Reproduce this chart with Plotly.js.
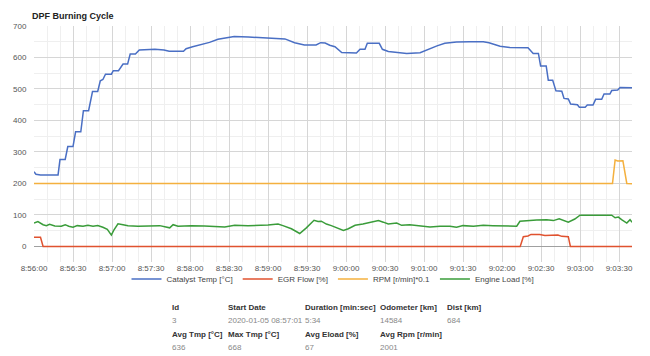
<!DOCTYPE html>
<html>
<head>
<meta charset="utf-8">
<script src="https://cdn.plot.ly/plotly-3.0.1.min.js"></script>
<style>
html,body{margin:0;padding:0;background:#fff;}
#chart{width:650px;height:356px;}
</style>
</head>
<body>
<div id="chart"></div>
<script>
// ---- Data (seconds after 08:56:00 on 2020-01-05, value) ----
const chartTitle = "DPF Burning Cycle";
const seriesNames = ["Catalyst Temp [°C]", "EGR Flow [%]", "RPM [r/min]*0.1", "Engine Load [%]"];

const catalystT = [0,1.5,5,18.5,20,24,26,30,32,36,38,42,45,49,51,53,55,59.5,61,65,68.5,72,74,78,81,93,100,104,115,117,122,128.7,135,141.5,149,154,165,180,193,200.5,205.6,208,217,220.5,224,227.5,231.5,236.7,248,250.8,254.6,256.4,265.6,268,272.6,286.7,297,302,310,316,325,335,345.6,350,358.5,366,380,384,388,389.7,394,395.6,399,401.5,406,407.7,411,412.8,418,419.5,424,425.6,430,432,436.7,438.5,443,444.4,449,450.8,460];
const catalystV = [237,229,227,227,276,276,317,317,364,364,431,431,492,492,526,530,547,547,558,558,579,579,611,611,624,626,624,620,620,628,634,640,648,658,664,667,665,662,659,647,643,640,640,647,646,639,634,616,614,626,626,645,645,626,619,613,615,624,637,645,649,650,650,647,636,632,631,613,613,573,573,528,528,494,493,470,468,452,450,442,442,449,449,467,467,484,484,495,497,505,504];

const egrT = [0,5,7,374,376.4,380,382.3,389,393,403,406,411,412.6,460];
const egrV = [29,29,0,0,31,33,38,38,35,36,32,31,0,0];

const rpmT = [0,30,58,90,130,200,215,230,300,380,440,445,447,449,453,456,460];
const rpmV = [200,201,200,200,200,201,199,200,200,200,200,200,274,271,272,200,199];

const loadT = [0,3,7,9.5,12,16,21,24,26.7,30,33.3,37.7,41.5,45.4,49,53,56.4,58.2,59.5,61.3,64.6,68.5,72.3,80,87.7,96.7,104.4,107,110.8,121,131,146.7,154.4,164.6,180,187.7,191.5,198,204.4,209.5,215.4,218.5,221,224.9,228.7,232.8,238,241.8,247,253,258.5,265,268.7,272.5,279,282.8,289,297,304.6,312.3,320,325,330,338,345.6,353,361,367.4,371.3,373.8,379,386.7,394.4,399.5,404,407,411,416,420,433,444.4,447,449.5,452,456,458.5,460];
const loadV = [74,79,69,66,70,65,64,69,64,61,66,64,67,64,66,61,54,43,36,51,72,69,66,64,64,66,59,69,64,66,65,62,67,66,68,71,66,56,41,59,83,79,80,71,66,59,51,56,67,71,77,82,77,71,74,67,69,66,62,64,64,61,66,64,67,66,66,64,64,80,82,84,85,82,88,83,77,87,99,99,99,91,93,85,74,85,77];

// summary table
const tableHeaders1 = ["Id", "Start Date", "Duration [min:sec]", "Odometer [km]", "Dist [km]"];
const tableValues1 = ["3", "2020-01-05 08:57:01", "5:34", "14584", "684"];
const tableHeaders2 = ["Avg Tmp [°C]", "Max Tmp [°C]", "Avg Eload [%]", "Avg Rpm [r/min]"];
const tableValues2 = ["636", "668", "67", "2001"];

const seriesColors = ["#4a6fc4", "#e0522f", "#f4b03e", "#3a9c3a"];

// ---- helpers ----
function stamp(sec){
  const total = 8*3600 + 56*60 + sec;
  const h = Math.floor(total/3600);
  const m = Math.floor((total - h*3600)/60);
  const s = total - h*3600 - m*60;
  const p = n => String(n).padStart(2,'0');
  const si = Math.floor(s);
  const ms = Math.round((s - si)*1000);
  return `2020-01-05 ${p(h)}:${p(m)}:${p(si)}.${String(ms).padStart(3,'0')}`;
}

const font = "Arial, 'Liberation Sans', sans-serif";
const mk = (T, V, i) => ({
  x: T.map(stamp), y: V, type: 'scatter', mode: 'lines', name: seriesNames[i],
  line: {color: seriesColors[i], width: 1.5}, hoverinfo: 'skip'
});

const traces = [mk(catalystT, catalystV, 0), mk(egrT, egrV, 1), mk(rpmT, rpmV, 2), mk(loadT, loadV, 3)];

// plot box geometry in px
const L = 34, R = 632, T = 26, B = 262;
const px2x = px => (px - L)/(R - L);
const py2y = py => (B - py)/(B - T);

const colX1 = [170, 226, 303, 378, 445];
const colX2 = [170, 226, 303, 378];
const annotations = [];
function addRow(arr, xs, py, bold){
  arr.forEach((s, i) => annotations.push({
    text: s, xref: 'paper', yref: 'paper', x: px2x(xs[i]), y: py2y(py),
    xanchor: 'left', yanchor: 'middle', showarrow: false,
    font: {family: font, size: 8, color: bold ? '#333' : '#888', weight: bold ? 'bold' : 'normal'}
  }));
}
addRow(tableHeaders1, colX1, 307.5, true);
addRow(tableValues1, colX1, 320.5, false);
addRow(tableHeaders2, colX2, 334.5, true);
addRow(tableValues2, colX2, 347.5, false);

const layout = {
  width: 650, height: 356,
  margin: {l: L, r: 650 - R, t: T, b: 356 - B, pad: 0},
  paper_bgcolor: '#fff', plot_bgcolor: '#fff',
  font: {family: font, size: 8, color: '#555'},
  title: {text: chartTitle, xref: 'container', yref: 'container', x: 32/650, xanchor: 'left',
          y: 1 - 16/356, yanchor: 'middle', font: {family: font, size: 9, color: '#222', weight: 'bold'}},
  showlegend: true,
  legend: {orientation: 'h', x: 0.5, xanchor: 'center', y: py2y(279), yanchor: 'middle',
           bgcolor: 'rgba(0,0,0,0)', tracegroupgap: 0,
           font: {family: font, size: 8, color: '#444'}, itemwidth: 30, traceorder: 'normal'},
  xaxis: {
    type: 'date', range: [stamp(0), stamp(460)],
    tickformat: '%-H:%M:%S', dtick: 30000, tick0: stamp(0),
    showgrid: true, gridcolor: '#d6d6d6', gridwidth: 1,
    minor: {dtick: 10000, tick0: stamp(0), showgrid: true, gridcolor: '#efefef', gridwidth: 1},
    zeroline: false, showline: false, ticks: '', tickfont: {size: 8, color: '#555'}, fixedrange: true
  },
  yaxis: {
    range: [-49.5, 700], dtick: 100, tick0: 0,
    showgrid: true, gridcolor: '#d6d6d6', gridwidth: 1,
    minor: {dtick: 50, tick0: 0, showgrid: true, gridcolor: '#efefef', gridwidth: 1},
    zeroline: true, zerolinecolor: '#a0a0a0', zerolinewidth: 1,
    showline: false, ticks: 'outside', ticklen: 5, tickcolor: 'rgba(0,0,0,0)',
    tickfont: {size: 8, color: '#555'}, fixedrange: true
  },
  annotations: annotations
};

Plotly.newPlot('chart', traces, layout, {staticPlot: true, displayModeBar: false});
</script>
</body>
</html>
